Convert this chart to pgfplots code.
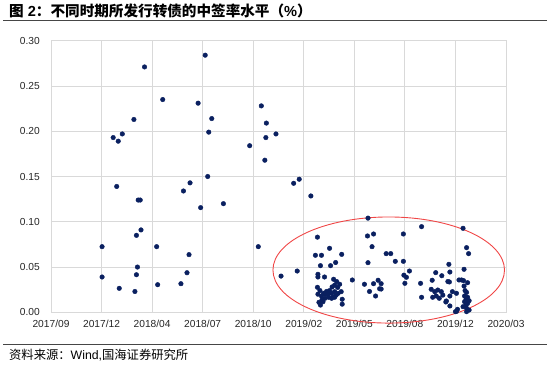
\documentclass[border=0pt]{standalone}
\usepackage{fontspec}
\usepackage{pgfplots}
\pgfplotsset{compat=1.18}
\setmainfont{Liberation Sans}
\newfontfamily\cjk{Noto Sans CJK SC}
\definecolor{dotc}{RGB}{10,32,96}
\definecolor{gridc}{RGB}{217,217,217}
\definecolor{ellc}{RGB}{240,70,70}
\definecolor{rulec}{RGB}{70,70,70}
\begin{document}
\begin{tikzpicture}[x=1bp,y=1bp]
\path (0,0) rectangle (550,365);
\node[anchor=west,inner sep=0pt] at (9,354) {\fontsize{14.6bp}{16bp}\selectfont{\cjk\bfseries 图} {\bfseries 2}{\cjk\bfseries ：不同时期所发行转债的中签率水平（}{\bfseries \%}{\cjk\bfseries ）}};
\draw[rulec,line width=1.3bp] (3,344.3) -- (547,344.3);
\draw[rulec,line width=1.3bp] (3,20.7) -- (547,20.7);
\node[anchor=west,inner sep=0pt] at (9,10) {\fontsize{12.3bp}{14bp}\selectfont{\cjk 资料来源：}Wind,{\cjk 国海证券研究所}};
\begin{axis}[
  at={(51bp,52.7bp)}, anchor=south west,
  scale only axis, width=455bp, height=271.6bp,
  xmin=0, xmax=9, ymin=0, ymax=0.30,
  clip=false,
  axis line style={gridc, line width=0.8bp},
  grid=major, major grid style={gridc, line width=0.8bp},
  major tick length=0,
  xtick={0,1,2,3,4,5,6,7,8,9},
  xticklabels={2017/09,2017/12,2018/04,2018/07,2018/10,2019/02,2019/05,2019/08,2019/12,2020/03},
  ytick={0,0.05,0.10,0.15,0.20,0.25,0.30},
  yticklabels={0.00,0.05,0.10,0.15,0.20,0.25,0.30},
  ticklabel style={font=\fontsize{10.2bp}{12bp}\selectfont, text=black!85},
  xticklabel style={anchor=north, inner sep=0pt, yshift=-8bp},
  yticklabel style={anchor=east, inner sep=0pt, xshift=-11bp},
]
\addplot[only marks, mark=*, mark size=2.3bp, mark options={fill=dotc, draw=dotc}] coordinates {
(1.23,0.193) (1.33,0.189) (1.41,0.197) (1.64,0.213) (1.85,0.271) (2.21,0.235)
(2.91,0.231) (3.05,0.284) (3.18,0.214) (3.12,0.199) (3.10,0.150) (3.93,0.184)
(4.16,0.228) (4.26,0.209) (4.25,0.193) (4.23,0.168) (4.45,0.197) (4.91,0.147)
(4.80,0.1425) (5.14,0.1285) (1.30,0.139) (1.725,0.124) (1.765,0.124)
(1.01,0.0725) (1.01,0.039) (1.35,0.0265) (1.66,0.023) (1.69,0.085) (1.78,0.091)
(1.71,0.050) (1.69,0.0415) (2.09,0.0725) (2.11,0.0305) (2.62,0.134) (2.75,0.143)
(2.96,0.1156) (3.41,0.120) (2.73,0.0637) (2.69,0.0437) (2.57,0.0316) (4.10,0.0725)
(4.55,0.040) (4.87,0.0456)
(5.27,0.083) (5.51,0.0707) (5.23,0.063) (5.35,0.063) (5.75,0.064) (5.63,0.055)
(5.53,0.0515) (5.33,0.0515) (5.28,0.042) (5.28,0.039) (5.41,0.039) (5.27,0.0276)
(5.96,0.0357) (5.59,0.0365) (5.65,0.034) (5.71,0.031) (5.61,0.030) (5.56,0.028)
(5.67,0.0275)
(5.28,0.020) (5.32,0.024) (5.35,0.018) (5.39,0.021) (5.42,0.020) (5.45,0.023)
(5.48,0.020) (5.51,0.024) (5.55,0.021) (5.58,0.017) (5.61,0.0228) (5.64,0.019)
(5.68,0.021) (5.74,0.0228) (5.36,0.0136) (5.42,0.0155) (5.49,0.0166) (5.55,0.0155)
(5.61,0.0166) (5.33,0.008) (5.38,0.0117) (5.76,0.0144) (5.76,0.009) (5.30,0.011)
(6.27,0.104) (6.26,0.0843) (6.38,0.0865) (6.35,0.0725) (6.27,0.0548) (6.63,0.0648)
(6.72,0.0648) (6.81,0.0563) (6.97,0.0563) (6.97,0.0865) (7.09,0.0456) (6.98,0.041)
(7.03,0.0387) (7.00,0.032) (6.20,0.031) (6.38,0.0316) (6.47,0.0354) (6.30,0.023)
(6.50,0.026) (6.42,0.018) (6.53,0.0316) (6.53,0.0257)
(7.33,0.0946) (7.31,0.032) (7.33,0.0166) (7.54,0.0354) (7.61,0.0438) (7.73,0.0404)
(7.52,0.0254) (7.59,0.0228) (7.65,0.0246) (7.72,0.0228) (7.55,0.0166) (7.62,0.018)
(7.68,0.0155) (7.75,0.019) (7.85,0.034) (7.81,0.0114)
(7.87,0.053) (7.89,0.0445) (7.88,0.0335) (7.94,0.0228) (8.02,0.021) (7.89,0.018)
(7.82,0.0125) (7.89,0.007) (8.15,0.0928) (8.22,0.0714) (8.26,0.0648) (8.17,0.0475)
(8.07,0.0357) (8.12,0.0357) (8.16,0.035) (8.24,0.0327) (8.17,0.029) (8.19,0.024)
(8.22,0.022) (8.18,0.018) (8.24,0.0166) (8.21,0.0144) (8.27,0.0128) (8.18,0.0117)
(8.24,0.0099) (8.21,0.0081) (8.15,0.0062) (8.22,0.0044) (8.27,0.0025) (8.04,0.0033)
(8.00,0.0007) (8.02,0.001) (8.22,0.0007)
};
\draw[ellc, line width=0.9bp] (axis cs:6.68,0.0467) ellipse [x radius=2.29, y radius=0.0586];
\end{axis}
\end{tikzpicture}
\end{document}
